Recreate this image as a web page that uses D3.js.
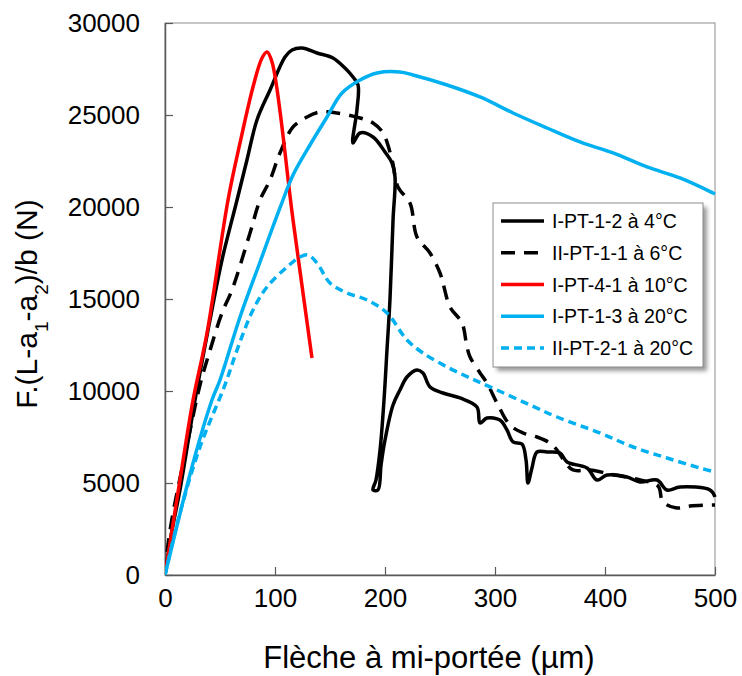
<!DOCTYPE html>
<html>
<head>
<meta charset="utf-8">
<script src="https://cdn.jsdelivr.net/npm/d3@7/dist/d3.min.js"></script>
<style>
  html, body { margin: 0; padding: 0; background: #fff; }
  svg { display: block; font-family: "Liberation Sans", Arial, sans-serif; }
</style>
</head>
<body>
<svg id="chart" width="742" height="676"></svg>
<script>
// ---------- DATA ----------
const xTicks = [0, 100, 200, 300, 400, 500];
const yTicks = [0, 5000, 10000, 15000, 20000, 25000, 30000];
const seriesNames = ["I-PT-1-2 à 4°C", "II-PT-1-1 à 6°C", "I-PT-4-1 à 10°C", "I-PT-1-3 à 20°C", "II-PT-2-1 à 20°C"];

// [flèche (µm), F.(L-a1-a2)/b (N)]
const sIPT12 = [
  [0,0],[2.7,1087],[6.4,2446],[13.6,4620],[27.3,9511],[40.9,13859],[51.8,17120],[65.5,20381],
  [74.5,22555],[83.6,24729],[95.5,26360],[109.1,28153],[115.5,28534],[124.5,28642],[138.2,28371],
  [152.7,28099],[163.6,27555],[170.9,27066],[175.5,26632],[174.5,25273],[170.9,23479],[177.3,24023],
  [189.1,23805],[200,22990],[206.4,22392],[209.1,21631],[207.3,19294],[204.5,14946],[201.8,12229],
  [199.1,9511],[195.5,6794],[191.8,5163],[189.1,4620],[193.6,4620],[196.4,5979],[200,7337],
  [207.3,9240],[213.6,10055],[220,10761],[229.1,11142],[234.5,10979],[240.9,10218],[252.7,9892],
  [268.2,9620],[283.6,9131],[286.4,8261],[292.7,8533],[304.5,8424],[310.9,7881],[316.4,7229],
  [324.5,7120],[328.2,6250],[330,5000],[333.6,5815],[338.2,6685],[347.3,6685],[359.1,6631],
  [365.5,6142],[383.6,5815],[392.7,5163],[401.8,5435],[420,5326],[431.8,5054],[447.3,5163],
  [456.4,4620],[468.2,4783],[495.5,4620],[500,4239]
];
const sIIPT11 = [
  [0,0],[2.7,1630],[7.3,3370],[19.1,6794],[31.8,10327],[39.1,11848],[51.8,14240],[60.9,15490],
  [77.3,18588],[86.4,20381],[95.5,21468],[104.5,22936],[116.4,24349],[129.1,24892],[140.9,25164],
  [156.4,25110],[177.3,24838],[189.1,24566],[198.2,24023],[206.4,22555],[211.8,21088],[222.7,20218],
  [229.1,18370],[240.9,17500],[250,16414],[252.7,15870],[259.1,14566],[270,13696],[274.5,12392],
  [277.3,11848],[286.4,10979],[292.7,10435],[301.8,9348],[313.6,8153],[325.5,7718],[338.2,7500],
  [350,7174],[356.4,6794],[363.6,6142],[370.9,5707],[386.4,5707],[404.5,5489],[431.8,5163],
  [448.2,4837],[452.7,3967],[465.5,3641],[477.3,3750],[500,3804]
];
const sIPT41 = [
  [0,0],[13.6,5163],[25.5,9511],[38.2,13152],[57.3,20381],[68.2,23479],[80,26523],[88.2,28099],
  [92.7,28424],[97.3,27881],[116.4,19294],[133.6,11794]
];
const sIPT13 = [
  [0,0],[25.5,6087],[42.7,9511],[50,10598],[68.2,14022],[86.4,17011],[104.5,19946],[116.4,21739],
  [131.8,23370],[147.3,24892],[160.9,26196],[177.3,26903],[192.7,27283],[213.6,27338],[225.5,27175],
  [256.4,26632],[286.4,25979],[316.4,25110],[347.3,24294],[377.3,23534],[407.3,22936],[438.2,22175],
  [468.2,21577],[498.2,20761],[500,20707]
];
const sIIPT21 = [
  [0,0],[13.6,3370],[31.8,6957],[54.5,10327],[65.5,12229],[80,14403],[92.7,15653],[110.9,16740],
  [122.7,17283],[130,17392],[138.2,16957],[150,15870],[165.5,15327],[183.6,14946],[201.8,14240],
  [220,12772],[234.5,12066],[256.4,11305],[277.3,10707],[301.8,10055],[331.8,9240],[356.4,8587],
  [395.5,7718],[425.5,6957],[456.4,6359],[486.4,5815],[500,5598]
];
const seriesData = [sIPT12, sIIPT11, sIPT41, sIPT13, sIIPT21];

// ---------- STYLE ----------
const styles = [
  { color: "#000000", dash: null },
  { color: "#000000", dash: "14,9" },
  { color: "#FF0000", dash: null },
  { color: "#00B0F0", dash: null },
  { color: "#00B0F0", dash: "8,5" }
];

const svg = d3.select("#chart");
const L = 165, R = 715, T = 23, B = 575;
const x = d3.scaleLinear().domain([0, 500]).range([L, R]);
const y = d3.scaleLinear().domain([0, 30000]).range([B, T]);
const axisColor = "#595959";

// plot frame
svg.append("rect").attr("x", L).attr("y", T).attr("width", R - L).attr("height", B - T)
  .attr("fill", "none").attr("stroke", "#8c8c8c").attr("stroke-width", 1);

// axes
const gx = svg.append("g").attr("transform", `translate(0,${B})`)
  .call(d3.axisBottom(x).tickValues(xTicks).tickSizeInner(-8).tickSizeOuter(0).tickPadding(14).tickFormat(d3.format("d")));
const gy = svg.append("g").attr("transform", `translate(${L},0)`)
  .call(d3.axisLeft(y).tickValues(yTicks).tickSizeInner(-8).tickSizeOuter(0).tickPadding(25).tickFormat(d3.format("d")));
[gx, gy].forEach(g => {
  g.select(".domain").attr("stroke", axisColor).attr("stroke-width", 1.5);
  g.selectAll(".tick line").attr("stroke", axisColor).attr("stroke-width", 1.2);
  g.selectAll(".tick text").attr("fill", "#000").style("font-size", "26px").style("font-family", '"Liberation Sans", Arial, sans-serif');
});

// clip
svg.append("clipPath").attr("id", "clip").append("rect")
  .attr("x", L).attr("y", T - 5).attr("width", R - L + 2).attr("height", B - T + 5);

const line = d3.line().x(d => x(d[0])).y(d => y(d[1])).curve(d3.curveCatmullRom.alpha(0.5));
const plot = svg.append("g").attr("clip-path", "url(#clip)");
seriesData.forEach((data, i) => {
  plot.append("path").datum(data)
    .attr("d", line)
    .attr("fill", "none")
    .attr("stroke", styles[i].color)
    .attr("stroke-width", 3.5)
    .attr("stroke-linejoin", "round")
    .attr("stroke-dasharray", styles[i].dash);
});

// legend
const lg = { x: 493, y: 203, w: 210, h: 164 };
const defs = svg.append("defs");
const f = defs.append("filter").attr("id", "shadow").attr("x", "-10%").attr("y", "-10%").attr("width", "130%").attr("height", "130%");
f.append("feGaussianBlur").attr("stdDeviation", 2);
svg.append("rect").attr("x", lg.x + 4).attr("y", lg.y + 4).attr("width", lg.w).attr("height", lg.h)
  .attr("fill", "#9a9a9a").attr("filter", "url(#shadow)");
svg.append("rect").attr("x", lg.x).attr("y", lg.y).attr("width", lg.w).attr("height", lg.h)
  .attr("fill", "#fff").attr("stroke", "#8c8c8c").attr("stroke-width", 1);
const rowY = d3.scaleLinear().domain([0, 4]).range([lg.y + 18, lg.y + 145]);
seriesNames.forEach((name, i) => {
  const yy = rowY(i);
  svg.append("line").attr("x1", lg.x + 8).attr("x2", lg.x + 51).attr("y1", yy).attr("y2", yy)
    .attr("stroke", styles[i].color).attr("stroke-width", 3.5)
    .attr("stroke-dasharray", styles[i].dash);
  svg.append("text").attr("x", lg.x + 59).attr("y", yy).attr("dy", "0.36em")
    .style("font-size", "19.5px").text(name);
});

// axis titles
svg.append("text").attr("x", 429).attr("y", 668).attr("text-anchor", "middle")
  .style("font-size", "31px").text("Flèche à mi-portée (µm)");

const yt = svg.append("text").attr("transform", "translate(37,304) rotate(-90)")
  .attr("text-anchor", "middle").style("font-size", "30px");
yt.append("tspan").text("F.(L-a");
yt.append("tspan").attr("baseline-shift", "sub").style("font-size", "19px").text("1");
yt.append("tspan").text("-a");
yt.append("tspan").attr("baseline-shift", "sub").style("font-size", "19px").text("2");
yt.append("tspan").text(")/b (N)");
</script>
</body>
</html>
